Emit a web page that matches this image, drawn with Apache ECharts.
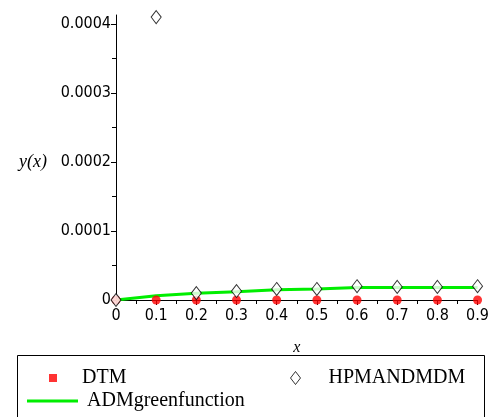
<!DOCTYPE html>
<html>
<head>
<meta charset="utf-8">
<script src="https://cdn.jsdelivr.net/npm/echarts@6/dist/echarts.min.js"></script>
<style>
  html, body { margin: 0; padding: 0; background: #fff; }
  #main { width: 492px; height: 417px; }
</style>
</head>
<body>
<div id="main"></div>
<script>
var xs = [0, 0.1, 0.2, 0.3, 0.4, 0.5, 0.6, 0.7, 0.8, 0.9]
var dtm = [0, 0, 0, 0, 0, 0, 0, 0, 0, 0]
var hpm = [0, 0.00041, 0.000010, 0.000013, 0.000016, 0.000016, 0.000020, 0.000019, 0.000019, 0.000020]
var adm = [0, 0.000006, 0.0000097, 0.000012, 0.000015, 0.000016, 0.000018, 0.000018, 0.000018, 0.000018]
var yTicks = [0, 0.0001, 0.0002, 0.0003, 0.0004]
var yMinorTicks = [0.00005, 0.00015, 0.00025, 0.00035]

function pairs(ys) {
  return xs.map((x, i) => [x, ys[i]])
}

var labelFont = 'DejaVu Sans Condensed'
var serif = 'Liberation Serif'

var myChart = echarts.init(document.getElementById('main'))
var option = {
  animation: false,
  backgroundColor: '#fff',
  grid: { left: 116, right: 9, top: 15, bottom: 117, containLabel: false },
  xAxis: {
    type: 'value',
    min: 0,
    max: 0.9,
    interval: 0.1,
    name: 'x',
    nameLocation: 'middle',
    nameGap: 40,
    nameTextStyle: { fontFamily: serif, fontStyle: 'italic', fontSize: 16, color: '#000' },
    axisLine: { onZero: false, lineStyle: { color: '#000', width: 1 } },
    axisTick: { length: 5, lineStyle: { color: '#000' } },
    minorTick: { show: true, splitNumber: 2, length: 4, lineStyle: { color: '#000' } },
    splitLine: { show: false },
    axisLabel: {
      margin: 8,
      fontFamily: labelFont,
      fontSize: 16,
      color: '#000',
      formatter: v => v === 0 ? '0' : v.toFixed(1)
    }
  },
  yAxis: [{
    type: 'value',
    min: 0,
    max: 0.000413,
    name: 'y(x)',
    nameLocation: 'middle',
    nameRotate: 0,
    nameGap: 69,
    nameTextStyle: { fontFamily: serif, fontStyle: 'italic', fontSize: 18, color: '#000', verticalAlign: 'top', lineHeight: 10 },
    axisLine: { onZero: false, lineStyle: { color: '#000', width: 1 } },
    axisTick: { length: 5, customValues: yTicks, lineStyle: { color: '#000' } },
    splitLine: { show: false },
    axisLabel: {
      margin: 5,
      fontFamily: labelFont,
      fontSize: 16,
      color: '#000',
      customValues: yTicks,
      formatter: v => v === 0 ? '0' : v.toFixed(4)
    }
  }, {
    type: 'value',
    min: 0,
    max: 0.000413,
    position: 'left',
    axisLine: { show: false },
    axisTick: { show: true, length: 4, customValues: yMinorTicks, lineStyle: { color: '#000' } },
    axisLabel: { show: false },
    splitLine: { show: false }
  }],
  legend: [{
    data: [{ name: 'DTM', icon: 'rect' }],
    left: 44, top: 363,
    itemWidth: 8, itemHeight: 8,
    textStyle: { fontFamily: serif, fontSize: 20, color: '#000', padding: [0, 0, 0, 20] }
  }, {
    data: [{ name: 'HPMANDMDM', icon: 'diamond', itemStyle: { color: '#fff', borderColor: '#000', borderWidth: 1 } }],
    left: 285, top: 363,
    itemWidth: 10, itemHeight: 13,
    textStyle: { fontFamily: serif, fontSize: 20, color: '#000', padding: [0, 0, 0, 23] }
  }, {
    data: [{ name: 'ADMgreenfunction', icon: 'rect' }],
    left: 22, top: 386,
    itemWidth: 51, itemHeight: 3,
    textStyle: { fontFamily: serif, fontSize: 20, color: '#000', padding: [0, 0, 0, 4] }
  }],
  graphic: [{
    type: 'rect',
    shape: { x: 17.5, y: 355.5, width: 467, height: 80 },
    style: { fill: 'none', stroke: '#000', lineWidth: 1 },
    z: -1
  }],
  series: [{
    name: 'ADMgreenfunction',
    type: 'line',
    data: pairs(adm),
    showSymbol: false,
    symbol: 'none',
    lineStyle: { color: '#00ee00', width: 3 },
    itemStyle: { color: '#00ee00' },
    z: 2
  }, {
    name: 'DTM',
    type: 'scatter',
    data: pairs(dtm),
    symbol: 'circle',
    symbolSize: 9,
    itemStyle: { color: '#ff0000' },
    z: 3
  }, {
    name: 'HPMANDMDM',
    type: 'scatter',
    data: pairs(hpm),
    symbol: 'diamond',
    symbolSize: [10, 13],
    itemStyle: { color: '#fff', borderColor: '#000', borderWidth: 1 },
    z: 4
  }]
}
myChart.setOption(option)
</script>
</body>
</html>
